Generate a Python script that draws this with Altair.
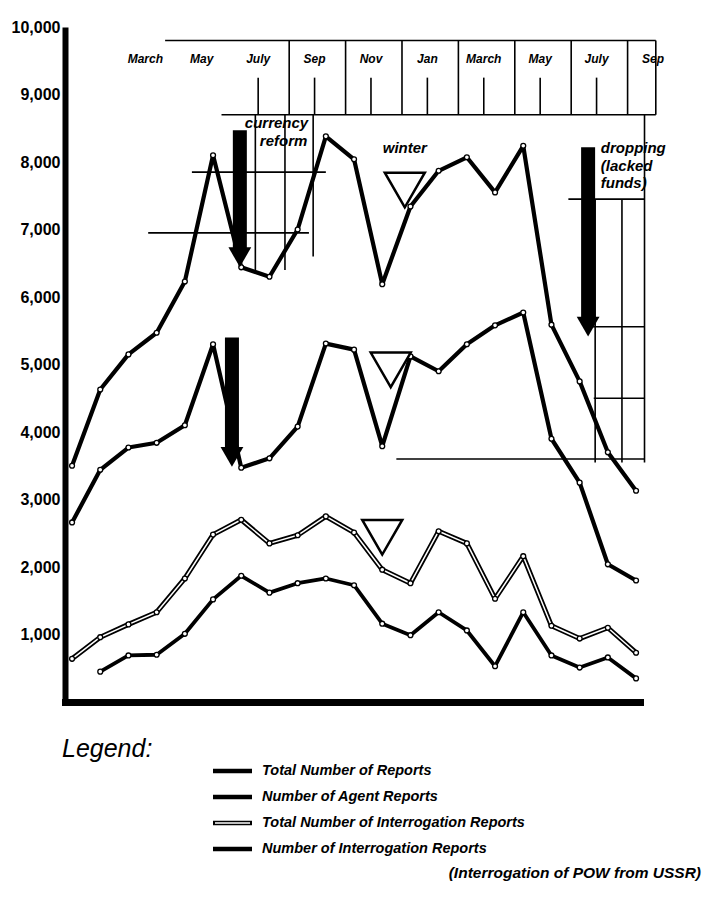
import altair as alt
import pandas as pd

# ---------------- data ----------------
months = ["Jan", "Feb", "March", "April", "May", "June", "July", "Aug", "Sep", "Oct", "Nov", "Dec",
          "Jan", "Feb", "March", "April", "May", "June", "July", "Aug", "Sep"]

total_reports = [3500, 4630, 5150, 5470, 6230, 8100, 6440, 6300, 7000, 8380, 8040, 6190,
                 7340, 7870, 8070, 7550, 8240, 5590, 4750, 3700, 3130]
agent_reports = [2660, 3440, 3770, 3840, 4100, 5300, 3470, 3610, 4080, 5310, 5220, 3790,
                 5120, 4900, 5300, 5580, 5770, 3900, 3250, 2040, 1800]
interrogation_total = [640, 960, 1150, 1330, 1830, 2480, 2700, 2350, 2470, 2750, 2510, 1960,
                       1760, 2530, 2350, 1530, 2160, 1130, 940, 1100, 730]
pow_reports = [None, 450, 690, 700, 1010, 1520, 1870, 1620, 1760, 1830, 1730, 1160,
               990, 1330, 1060, 530, 1330, 690, 510, 660, 350]

series_names = ["Total Number of Reports", "Number of Agent Reports",
                "Total Number of Interrogation Reports", "Number of Interrogation Reports"]
legend_note = "(Interrogation of POW from USSR)"

top_months = ["March", "May", "July", "Sep", "Nov", "Jan", "March", "May", "July", "Sep"]
top_month_idx = [2, 4, 6, 8, 10, 12, 14, 16, 18, 20]
y_ticks = [1000, 2000, 3000, 4000, 5000, 6000, 7000, 8000, 9000, 10000]

# annotations (month position, value)
arrow_idx = [5.95, 5.67, 18.3]
arrow_top = [8470, 5400, 8220]
arrow_tip = [6440, 3480, 5410]
winter_tri_idx = [11.8, 11.3, 11.0]
winter_tri_val = [7585, 4920, 2440]
notes = [("currency", 7.25, 8580), ("reform", 7.5, 8310), ("winter", 11.8, 8210)]
drop_notes = [("dropping", 8210), ("(lacked", 7940), ("funds)", 7690)]

# grid fragments (value, from month, to month) / (month, from value, to value)
grid_h = [(9800, 3.3, 20.7), (8700, 5.3, 20.7), (7850, 4.25, 9.0), (6950, 2.7, 8.4),
          (7450, 17.6, 20.3), (5560, 18.2, 20.3), (4500, 18.5, 20.3), (3600, 11.5, 20.3)]
grid_v = [(7.7, 8700, 9800), (9.7, 8700, 9800), (11.7, 8700, 9800), (13.7, 8700, 9800),
          (15.7, 8700, 9800), (17.7, 8700, 9800), (19.7, 8700, 9800), (20.7, 8700, 9800),
          (6.6, 8700, 9250), (8.6, 8700, 9250), (10.6, 8700, 9250), (12.6, 8700, 9250),
          (14.6, 8700, 9250), (16.6, 8700, 9250), (18.6, 8700, 9250),
          (6.5, 6400, 8700), (7.55, 6400, 8700), (8.55, 6600, 8700),
          (18.55, 3550, 7450), (19.5, 3550, 7450), (20.3, 3550, 8700)]

# ---------------- chart ----------------
W, H = 575, 675
FONT = "Liberation Sans"
xs = alt.Scale(domain=[-0.25, 20.14], nice=False, zero=False)
ys = alt.Scale(domain=[0, 10000], nice=False, zero=False)

X_AXIS = alt.Axis(labels=False, ticks=False, grid=False, domainWidth=7, domainColor="black",
                  domainCap="square")
Y_AXIS = alt.Axis(values=y_ticks, format=",.0f", ticks=False, grid=False, domainWidth=6,
                  domainColor="black", labelFont=FONT, labelFontSize=16,
                  labelFontWeight="bold", labelColor="black", labelPadding=5)


def XE(field):
    return alt.X(field, type="quantitative", scale=xs, title=None, axis=X_AXIS)


def YE(field):
    return alt.Y(field, type="quantitative", scale=ys, title=None, axis=Y_AXIS)


def series_df(vals):
    df = pd.DataFrame({"idx": list(range(len(months))), "month": months, "v": vals})
    return df.dropna()


gh = pd.DataFrame(grid_h, columns=["v", "x1", "x2"])
gv = pd.DataFrame(grid_v, columns=["x", "v1", "v2"])
grid_h_layer = alt.Chart(gh).mark_rule(color="black", strokeWidth=1.6).encode(
    x=XE("x1"), x2="x2:Q", y=YE("v"))
grid_v_layer = alt.Chart(gv).mark_rule(color="black", strokeWidth=1.6).encode(
    x=XE("x"), y=YE("v1"), y2="v2:Q")

month_df = pd.DataFrame({"x": [i + 0.6 for i in top_month_idx], "t": top_months, "v": 9530})
month_layer = alt.Chart(month_df).mark_text(
    font=FONT, fontSize=12, fontStyle="italic", fontWeight="bold", color="black"
).encode(x=XE("x"), y=YE("v"), text="t:N")


def line(vals, width, color="black"):
    return alt.Chart(series_df(vals)).mark_line(
        color=color, strokeWidth=width, strokeJoin="round", strokeCap="round").encode(
        x=XE("idx"), y=YE("v"))


def dots(vals):
    return alt.Chart(series_df(vals)).mark_point(
        shape="circle", filled=True, fill="white", stroke="black", strokeWidth=1.3,
        size=24, opacity=1).encode(x=XE("idx"), y=YE("v"))


lines = [
    line(total_reports, 4.2), dots(total_reports),
    line(agent_reports, 4.2), dots(agent_reports),
    line(interrogation_total, 5), line(interrogation_total, 1.5, "white"), dots(interrogation_total),
    line(pow_reports, 3.8), dots(pow_reports),
]

arr = pd.DataFrame({"x": arrow_idx, "top": arrow_top, "tip": arrow_tip})
arr["shaft_end"] = arr["tip"] + 200
arr["head"] = arr["tip"] + 150
shaft = alt.Chart(arr).mark_rule(color="black", strokeWidth=14, strokeCap="butt").encode(
    x=XE("x"), y=YE("top"), y2="shaft_end:Q")
head = alt.Chart(arr).mark_point(shape="triangle-down", filled=True, color="black", size=520,
                                 opacity=1).encode(x=XE("x"), y=YE("head"))

tri = pd.DataFrame({"x": winter_tri_idx, "v": winter_tri_val})
tri_layer = alt.Chart(tri).mark_point(shape="triangle-down", filled=True, fill="white",
                                      stroke="black", strokeWidth=2.5, size=1600, opacity=1).encode(
    x=XE("x"), y=YE("v"))

note_df = pd.DataFrame(notes, columns=["t", "x", "v"])
note_layer = alt.Chart(note_df).mark_text(
    font=FONT, fontSize=15, fontStyle="italic", fontWeight="bold", color="black"
).encode(x=XE("x"), y=YE("v"), text="t:N")

drop_df = pd.DataFrame(drop_notes, columns=["t", "v"])
drop_df["x"] = 18.75
drop_layer = alt.Chart(drop_df).mark_text(
    font=FONT, fontSize=15, fontStyle="italic", fontWeight="bold", color="black", align="left"
).encode(x=XE("x"), y=YE("v"), text="t:N")

# legend (pixel positions relative to the plot area)
one = pd.DataFrame({"a": [0]})
legend_layers = [
    alt.Chart(one).mark_text(font=FONT, fontSize=25, fontStyle="italic", align="left",
                             baseline="middle", color="black").encode(
        x=alt.value(-3), y=alt.value(722), text=alt.value("Legend:"))
]
for i, name in enumerate(series_names):
    yy = 744 + i * 26
    legend_layers.append(alt.Chart(one).mark_rule(color="black", strokeWidth=4.5).encode(
        x=alt.value(148), x2=alt.value(187), y=alt.value(yy)))
    if i == 2:
        legend_layers.append(alt.Chart(one).mark_rule(color="white", strokeWidth=1.4).encode(
            x=alt.value(150), x2=alt.value(185), y=alt.value(yy)))
    legend_layers.append(alt.Chart(one).mark_text(
        font=FONT, fontSize=14.5, fontStyle="italic", fontWeight="bold", align="left",
        baseline="middle", color="black").encode(
        x=alt.value(197), y=alt.value(yy), text=alt.value(name)))
legend_layers.append(alt.Chart(one).mark_text(
    font=FONT, fontSize=15.5, fontStyle="italic", fontWeight="bold", align="right",
    baseline="middle", color="black").encode(
    x=alt.value(636), y=alt.value(846), text=alt.value(legend_note)))

chart = alt.layer(
    grid_h_layer, grid_v_layer, month_layer, *lines, tri_layer, shaft, head,
    note_layer, drop_layer, *legend_layers
).properties(
    width=W, height=H,
    padding={"left": 57, "top": 19, "right": 70, "bottom": 190},
    autosize=alt.AutoSizeParams(type="none"),
    background="white",
).configure_view(stroke=None)

chart.save("out.html", embed_options={"renderer": "svg", "actions": False})
